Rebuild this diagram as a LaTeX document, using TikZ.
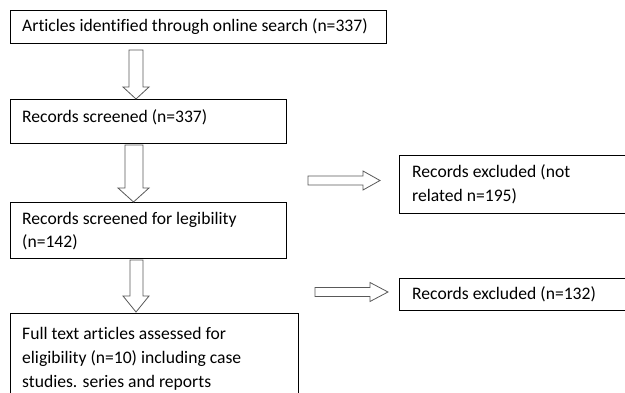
\documentclass[tikz,border=0pt]{standalone}
\usepackage{fontspec}
\setmainfont{Carlito}[Ligatures={NoCommon}]
\begin{document}
\begin{tikzpicture}[x=1pt,y=-1pt,
  box/.style={draw=black,line width=0.8pt,fill=white},
  txt/.style={anchor=base west,inner sep=0pt,font=\fontsize{17.6}{21}\selectfont},
  blockarrow/.style={draw=black!65,line width=0.8pt,fill=white,line join=miter}]
\useasboundingbox (0,0) rectangle (625,393);
\clip (0,0) rectangle (625,393);
% boxes
\draw[box] (10,10) rectangle (386,43);
\draw[box] (10,99) rectangle (286,143);
\draw[box] (10,202) rectangle (286,258);
\draw[box] (10,313) rectangle (298,410);
\draw[box] (399,155) rectangle (640,213);
\draw[box] (399,278) rectangle (640,310);
% texts
\node[txt] (t1) at (22,32) {Articles identified through online search (n=337)};
\node[txt] (t2) at (22,123) {Records screened (n=337)};
\node[txt] (t3a) at (22,225) {Records screened for legibility};
\node[txt] (t3b) at (22,248) {(n=142)};
\node[txt] (t4a) at (22,340) {Full text articles assessed for};
\node[txt] (t4b) at (22,364) {eligibility (n=10) including case};
\node[txt] (t4c) at (22,388) {studies. series and reports};
\node[txt] (tAa) at (412,178) {Records excluded (not};
\node[txt] (tAb) at (412,202) {related n=195)};
\node[txt] (tB) at (412,300) {Records excluded (n=132)};
% vertical block arrows
\draw[blockarrow] (129,50) -- (143,50) -- (143,87) -- (149,87) -- (136,99) -- (123,87) -- (129,87) -- cycle;
\draw[blockarrow] (125,145) -- (143,145) -- (143,188) -- (149,188) -- (133.5,202) -- (118,188) -- (125,188) -- cycle;
\draw[blockarrow] (130,260) -- (143,260) -- (143,296) -- (149,296) -- (136,312) -- (123,296) -- (130,296) -- cycle;
% horizontal block arrows
\draw[blockarrow] (308,176) -- (363,176) -- (363,171) -- (380,180.5) -- (363,190) -- (363,185) -- (308,185) -- cycle;
\draw[blockarrow] (315,287.5) -- (370,287.5) -- (370,282.5) -- (388,292) -- (370,301.5) -- (370,296.5) -- (315,296.5) -- cycle;
\end{tikzpicture}
\end{document}
